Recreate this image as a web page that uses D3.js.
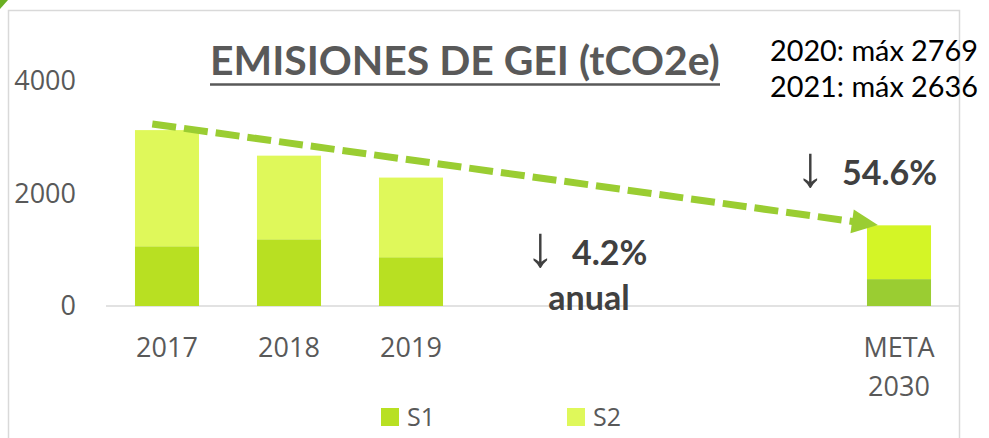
<!DOCTYPE html>
<html>
<head>
<meta charset="utf-8">
<script src="https://cdn.jsdelivr.net/npm/d3@7"></script>
<style>
  body { margin: 0; background: #fff; }
  svg { display: block; }
</style>
</head>
<body>
<div id="chart"></div>
<script>
// categories (the three empty slots keep the gap before the 2030 goal)
var categories = ['2017', '2018', '2019', 'g1', 'g2', 'g3', 'META 2030'];
var tickLabels = ['2017', '2018', '2019', '', '', '', 'META\n2030'];
var s1 = [1062, 1186, 867, null, null, null, 478];
var s2 = [2065, 1487, 1416, null, null, null, 956];
var yTicks = [0, 2000, 4000];
var seriesNames = ['S1', 'S2'];
var notes = ['2020: máx 2769', '2021: máx 2636'];
// dashed trend arrow, in data units (category, position in band, value)
var trendFrom = { cat: '2017', pos: 0.27, value: 3236 };
var trendTo = { cat: 'META 2030', pos: 0.17, value: 1440 };

var W = 989, H = 438;
var colors = { s1: '#B8E022', s2: '#DFF85A', metaS1: '#9ACD32', metaS2: '#D4F526' };
var grey = '#595959';

var svg = d3.select('#chart').append('svg')
    .attr('width', W)
    .attr('height', H);

// frame + green corner
svg.append('polygon').attr('points', '0,0 8,0 0,9').attr('fill', '#6AB023');
svg.append('rect')
    .attr('x', 8.5).attr('y', 10.5)
    .attr('width', 951).attr('height', 440)
    .attr('fill', 'none').attr('stroke', '#d9d9d9').attr('stroke-width', 1.5);

var x = d3.scaleBand().domain(categories).range([106, 960])
    .paddingInner(0.475).paddingOuter(0.2375);
var y = d3.scaleLinear().domain([0, 4000]).range([306, 81]);

// y axis labels only
var yAxis = svg.append('g')
    .attr('transform', 'translate(106,0)')
    .call(d3.axisLeft(y).tickValues(yTicks).tickFormat(d3.format('d')).tickSize(0).tickPadding(30));
yAxis.select('.domain').remove();
yAxis.selectAll('text')
    .attr('font-family', 'Open Sans')
    .attr('font-size', 27)
    .attr('fill', grey);

// baseline
svg.append('line')
    .attr('x1', x.range()[0]).attr('x2', x.range()[1])
    .attr('y1', y(0)).attr('y2', y(0))
    .attr('stroke', '#d9d9d9').attr('stroke-width', 1.5);

// stacked bars
var rows = categories.map(function(c, i){
    return { cat: c, s1: s1[i], s2: s2[i], meta: c === 'META 2030' };
}).filter(function(d){ return d.s1 !== null; });

var stack = d3.stack().keys(['s1', 's2'])(rows);
svg.append('g').selectAll('g')
    .data(stack)
    .enter().append('g')
    .selectAll('rect')
    .data(function(layer){ return layer.map(function(d){ d.key = layer.key; return d; }); })
    .enter().append('rect')
    .attr('x', function(d){ return x(d.data.cat); })
    .attr('width', x.bandwidth())
    .attr('y', function(d){ return y(d[1]); })
    .attr('height', function(d){ return y(d[0]) - y(d[1]); })
    .attr('fill', function(d){
        if (d.data.meta) return d.key === 's1' ? colors.metaS1 : colors.metaS2;
        return colors[d.key];
    });

// x labels
var xl = svg.append('g').selectAll('text')
    .data(categories)
    .enter().append('text')
    .attr('text-anchor', 'middle')
    .attr('font-family', 'Open Sans')
    .attr('font-size', 27)
    .attr('fill', grey);
xl.each(function(c, i){
    var lines = tickLabels[i].split('\n');
    d3.select(this).selectAll('tspan')
        .data(lines)
        .enter().append('tspan')
        .attr('x', x(c) + x.bandwidth() / 2)
        .attr('y', function(l, j){ return 357 + j * 39; })
        .text(function(l){ return l; });
});

// trend arrow
var p0 = [x(trendFrom.cat) + x.bandwidth() * trendFrom.pos, y(trendFrom.value)];
var p1 = [x(trendTo.cat) + x.bandwidth() * trendTo.pos, y(trendTo.value)];
var ang = Math.atan2(p1[1] - p0[1], p1[0] - p0[0]);
var headLen = 26, headHalf = 12;
var base = [p1[0] - headLen * Math.cos(ang), p1[1] - headLen * Math.sin(ang)];
svg.append('line')
    .attr('x1', p0[0]).attr('y1', p0[1])
    .attr('x2', base[0] + 2 * Math.cos(ang)).attr('y2', base[1] + 2 * Math.sin(ang))
    .attr('stroke', '#9ACD32')
    .attr('stroke-width', 7)
    .attr('stroke-dasharray', '24 8');
svg.append('polygon')
    .attr('points', [
        p1,
        [base[0] + headHalf * Math.sin(ang), base[1] - headHalf * Math.cos(ang)],
        [base[0] - headHalf * Math.sin(ang), base[1] + headHalf * Math.cos(ang)]
    ].map(function(p){ return p.join(','); }).join(' '))
    .attr('fill', '#9ACD32');

// title, fitted to its width in the picture
function fit(sel, target){
    var w = sel.node().getComputedTextLength();
    var fs = +sel.attr('font-size');
    sel.attr('font-size', fs * target / w);
}
var title = svg.append('text')
    .attr('x', 210).attr('y', 75)
    .attr('font-family', 'Lato')
    .attr('font-weight', 'bold')
    .attr('font-size', 40)
    .attr('fill', grey)
    .text('EMISIONES DE GEI (tCO2e)');
fit(title, 510);
svg.append('line')
    .attr('x1', 210).attr('x2', 720)
    .attr('y1', 84.5).attr('y2', 84.5)
    .attr('stroke', grey).attr('stroke-width', 2.5);

// max notes
svg.append('g').selectAll('text')
    .data(notes)
    .enter().append('text')
    .attr('x', 770)
    .attr('y', function(d, i){ return 61 + i * 36; })
    .attr('font-family', 'Lato')
    .attr('font-size', 27)
    .attr('fill', '#000')
    .text(function(d){ return d; })
    .each(function(){ fit(d3.select(this), 208); });

// reduction annotations
function arrowNote(ax, ay, tx, label){
    svg.append('text')
        .attr('x', ax).attr('y', ay + 1)
        .attr('font-family', 'Liberation Sans')
        .attr('font-size', 58)
        .attr('fill', '#404040')
        .text('↓');
    svg.append('text')
        .attr('x', tx).attr('y', ay)
        .attr('font-family', 'Lato')
        .attr('font-weight', 'bold')
        .attr('font-size', 34)
        .attr('fill', '#404040')
        .text(label);
}
arrowNote(796, 185, 842, '54.6%');
arrowNote(526, 265, 572, '4.2%');
svg.append('text')
    .attr('x', 589).attr('y', 310)
    .attr('text-anchor', 'middle')
    .attr('font-family', 'Lato')
    .attr('font-weight', 'bold')
    .attr('font-size', 34)
    .attr('fill', '#404040')
    .text('anual');

// legend
var leg = svg.append('g').selectAll('g')
    .data(seriesNames)
    .enter().append('g')
    .attr('transform', function(d, i){ return 'translate(' + (381 + i * 186) + ',408)'; });
leg.append('rect')
    .attr('width', 18).attr('height', 18)
    .attr('fill', function(d, i){ return i === 0 ? colors.s1 : colors.s2; });
leg.append('text')
    .attr('x', 26).attr('y', 18)
    .attr('font-family', 'Open Sans')
    .attr('font-size', 25)
    .attr('fill', grey)
    .text(function(d){ return d; });
</script>
</body>
</html>
